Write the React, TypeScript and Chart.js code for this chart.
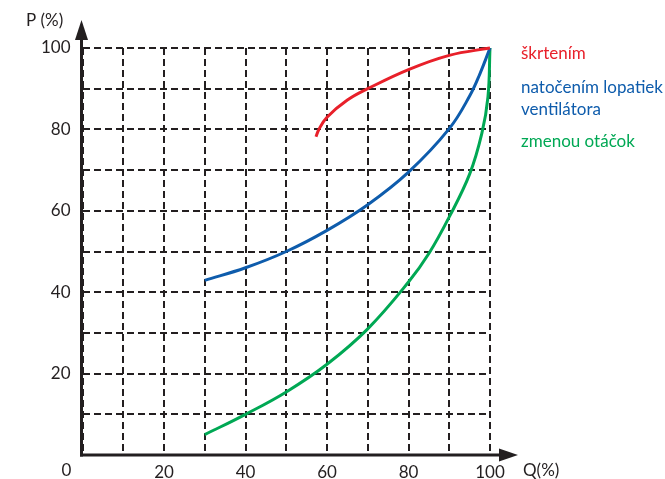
import React, { useEffect, useRef } from "react";
import { Chart, registerables } from "chart.js";

Chart.register(...registerables);

// Data
const redQ = [57.3, 58, 60, 65, 70, 80, 90, 100];
const redP = [78.2, 80, 83, 87.2, 90, 94.7, 98.2, 100];

const blueQ = [30, 40, 50, 60, 70, 80, 90, 95, 97.5, 100];
const blueP = [42.9, 46, 50, 55.2, 61.5, 69.5, 80.2, 88.2, 93.6, 100];

const greenQ = [30, 40, 50, 60, 70, 80, 85, 90, 95, 98, 99.5, 100];
const greenP = [5, 10, 15.5, 22.3, 31, 42.5, 49.5, 58.5, 69, 79, 88, 100];

const legendLabels = ["škrtením", "natočením lopatiek", "ventilátora", "zmenou otáčok"];
const xTitle = "Q(%)";
const yTitle = "P (%)";
const originLabel = "0";

const RED = "rgb(232,32,42)";
const BLUE = "rgb(14,92,172)";
const GREEN = "rgb(0,168,84)";
const INK = "#231f20";
const FONT = "Lato, 'Open Sans', sans-serif";
const FS = 17;

const toPts = (xs: number[], ys: number[]) => xs.map((x, i) => ({ x, y: ys[i] }));

export default function App() {
  const ref = useRef<HTMLCanvasElement | null>(null);

  useEffect(() => {
    document.body.style.margin = "0";
    const canvas = ref.current;
    if (!canvas) return;

    const overlay = {
      id: "overlay",
      afterDraw(chart: any) {
        const ctx = chart.ctx;
        const xs = chart.scales.x;
        const ys = chart.scales.y;
        const ca = chart.chartArea;
        const x0 = xs.getPixelForValue(0);
        const y0 = ys.getPixelForValue(0);
        ctx.save();
        ctx.strokeStyle = INK;
        ctx.fillStyle = INK;
        ctx.lineWidth = 3;
        ctx.setLineDash([]);
        // y axis
        ctx.beginPath();
        ctx.moveTo(x0 - 1, y0 + 1.5);
        ctx.lineTo(x0 - 1, ca.top - 8);
        ctx.stroke();
        ctx.beginPath();
        ctx.moveTo(x0 - 1, ca.top - 28);
        ctx.lineTo(x0 - 7.5, ca.top - 8);
        ctx.lineTo(x0 + 5.5, ca.top - 8);
        ctx.closePath();
        ctx.fill();
        // x axis
        ctx.beginPath();
        ctx.moveTo(x0 - 2.5, y0);
        ctx.lineTo(ca.right + 10, y0);
        ctx.stroke();
        ctx.beginPath();
        ctx.moveTo(ca.right + 28, y0);
        ctx.lineTo(ca.right + 9, y0 - 6.5);
        ctx.lineTo(ca.right + 9, y0 + 6.5);
        ctx.closePath();
        ctx.fill();

        // texts
        ctx.font = `${FS}px ${FONT}`;
        ctx.textBaseline = "middle";
        ctx.textAlign = "left";
        ctx.fillText(yTitle, 26, ca.top - 27);
        ctx.fillText(xTitle, ca.right + 33, y0 + 16);
        ctx.textAlign = "center";
        ctx.fillText(originLabel, x0 - 16, y0 + 16);

        ctx.textAlign = "left";
        const lx = ca.right + 31;
        ctx.fillStyle = RED;
        ctx.fillText(legendLabels[0], lx, 54);
        ctx.fillStyle = BLUE;
        ctx.fillText(legendLabels[1], lx, 88);
        ctx.fillText(legendLabels[2], lx, 110);
        ctx.fillStyle = GREEN;
        ctx.fillText(legendLabels[3], lx, 142);
        ctx.restore();
      },
    };

    const lineDs = (label: string, xs: number[], ys: number[], color: string) => ({
      label,
      data: toPts(xs, ys),
      borderColor: color,
      backgroundColor: color,
      borderWidth: 3,
      pointRadius: 0,
      fill: false,
      tension: 0.4,
      clip: 6,
    });

    const chart = new Chart(canvas, {
      type: "line",
      data: {
        datasets: [
          lineDs(legendLabels[0], redQ, redP, RED),
          lineDs(legendLabels[1], blueQ, blueP, BLUE),
          lineDs(legendLabels[3], greenQ, greenP, GREEN),
        ],
      },
      options: {
        responsive: false,
        animation: false,
        layout: { padding: { left: 0, top: 48, right: 175, bottom: 0 } },
        plugins: { legend: { display: false }, tooltip: { enabled: false } },
        scales: {
          x: {
            type: "linear",
            min: 0,
            max: 100,
            afterFit: (s: any) => {
              s.height = 24;
            },
            border: { display: false, dash: [7, 4] },
            grid: { color: INK, lineWidth: 2, drawTicks: false },
            ticks: {
              stepSize: 10,
              padding: 7,
              maxRotation: 0,
              autoSkip: false,
              color: INK,
              font: { family: FONT, size: FS },
              callback: (v: any) => (v > 0 && v % 20 === 0 ? String(v) : ""),
            },
          },
          y: {
            type: "linear",
            min: 0,
            max: 100,
            afterFit: (s: any) => {
              s.width = 82.5;
            },
            border: { display: false, dash: [7, 4] },
            grid: { color: INK, lineWidth: 2, drawTicks: false },
            ticks: {
              stepSize: 10,
              padding: 12,
              autoSkip: false,
              color: INK,
              font: { family: FONT, size: FS },
              callback: (v: any) => (v > 0 && v % 20 === 0 ? String(v) : ""),
            },
          },
        },
      },
      plugins: [overlay],
    } as any);

    return () => chart.destroy();
  }, []);

  return (
    <div style={{ position: "fixed", left: 0, top: 0, width: 665, height: 479, background: "#fff" }}>
      <canvas ref={ref} width={665} height={479} />
    </div>
  );
}
